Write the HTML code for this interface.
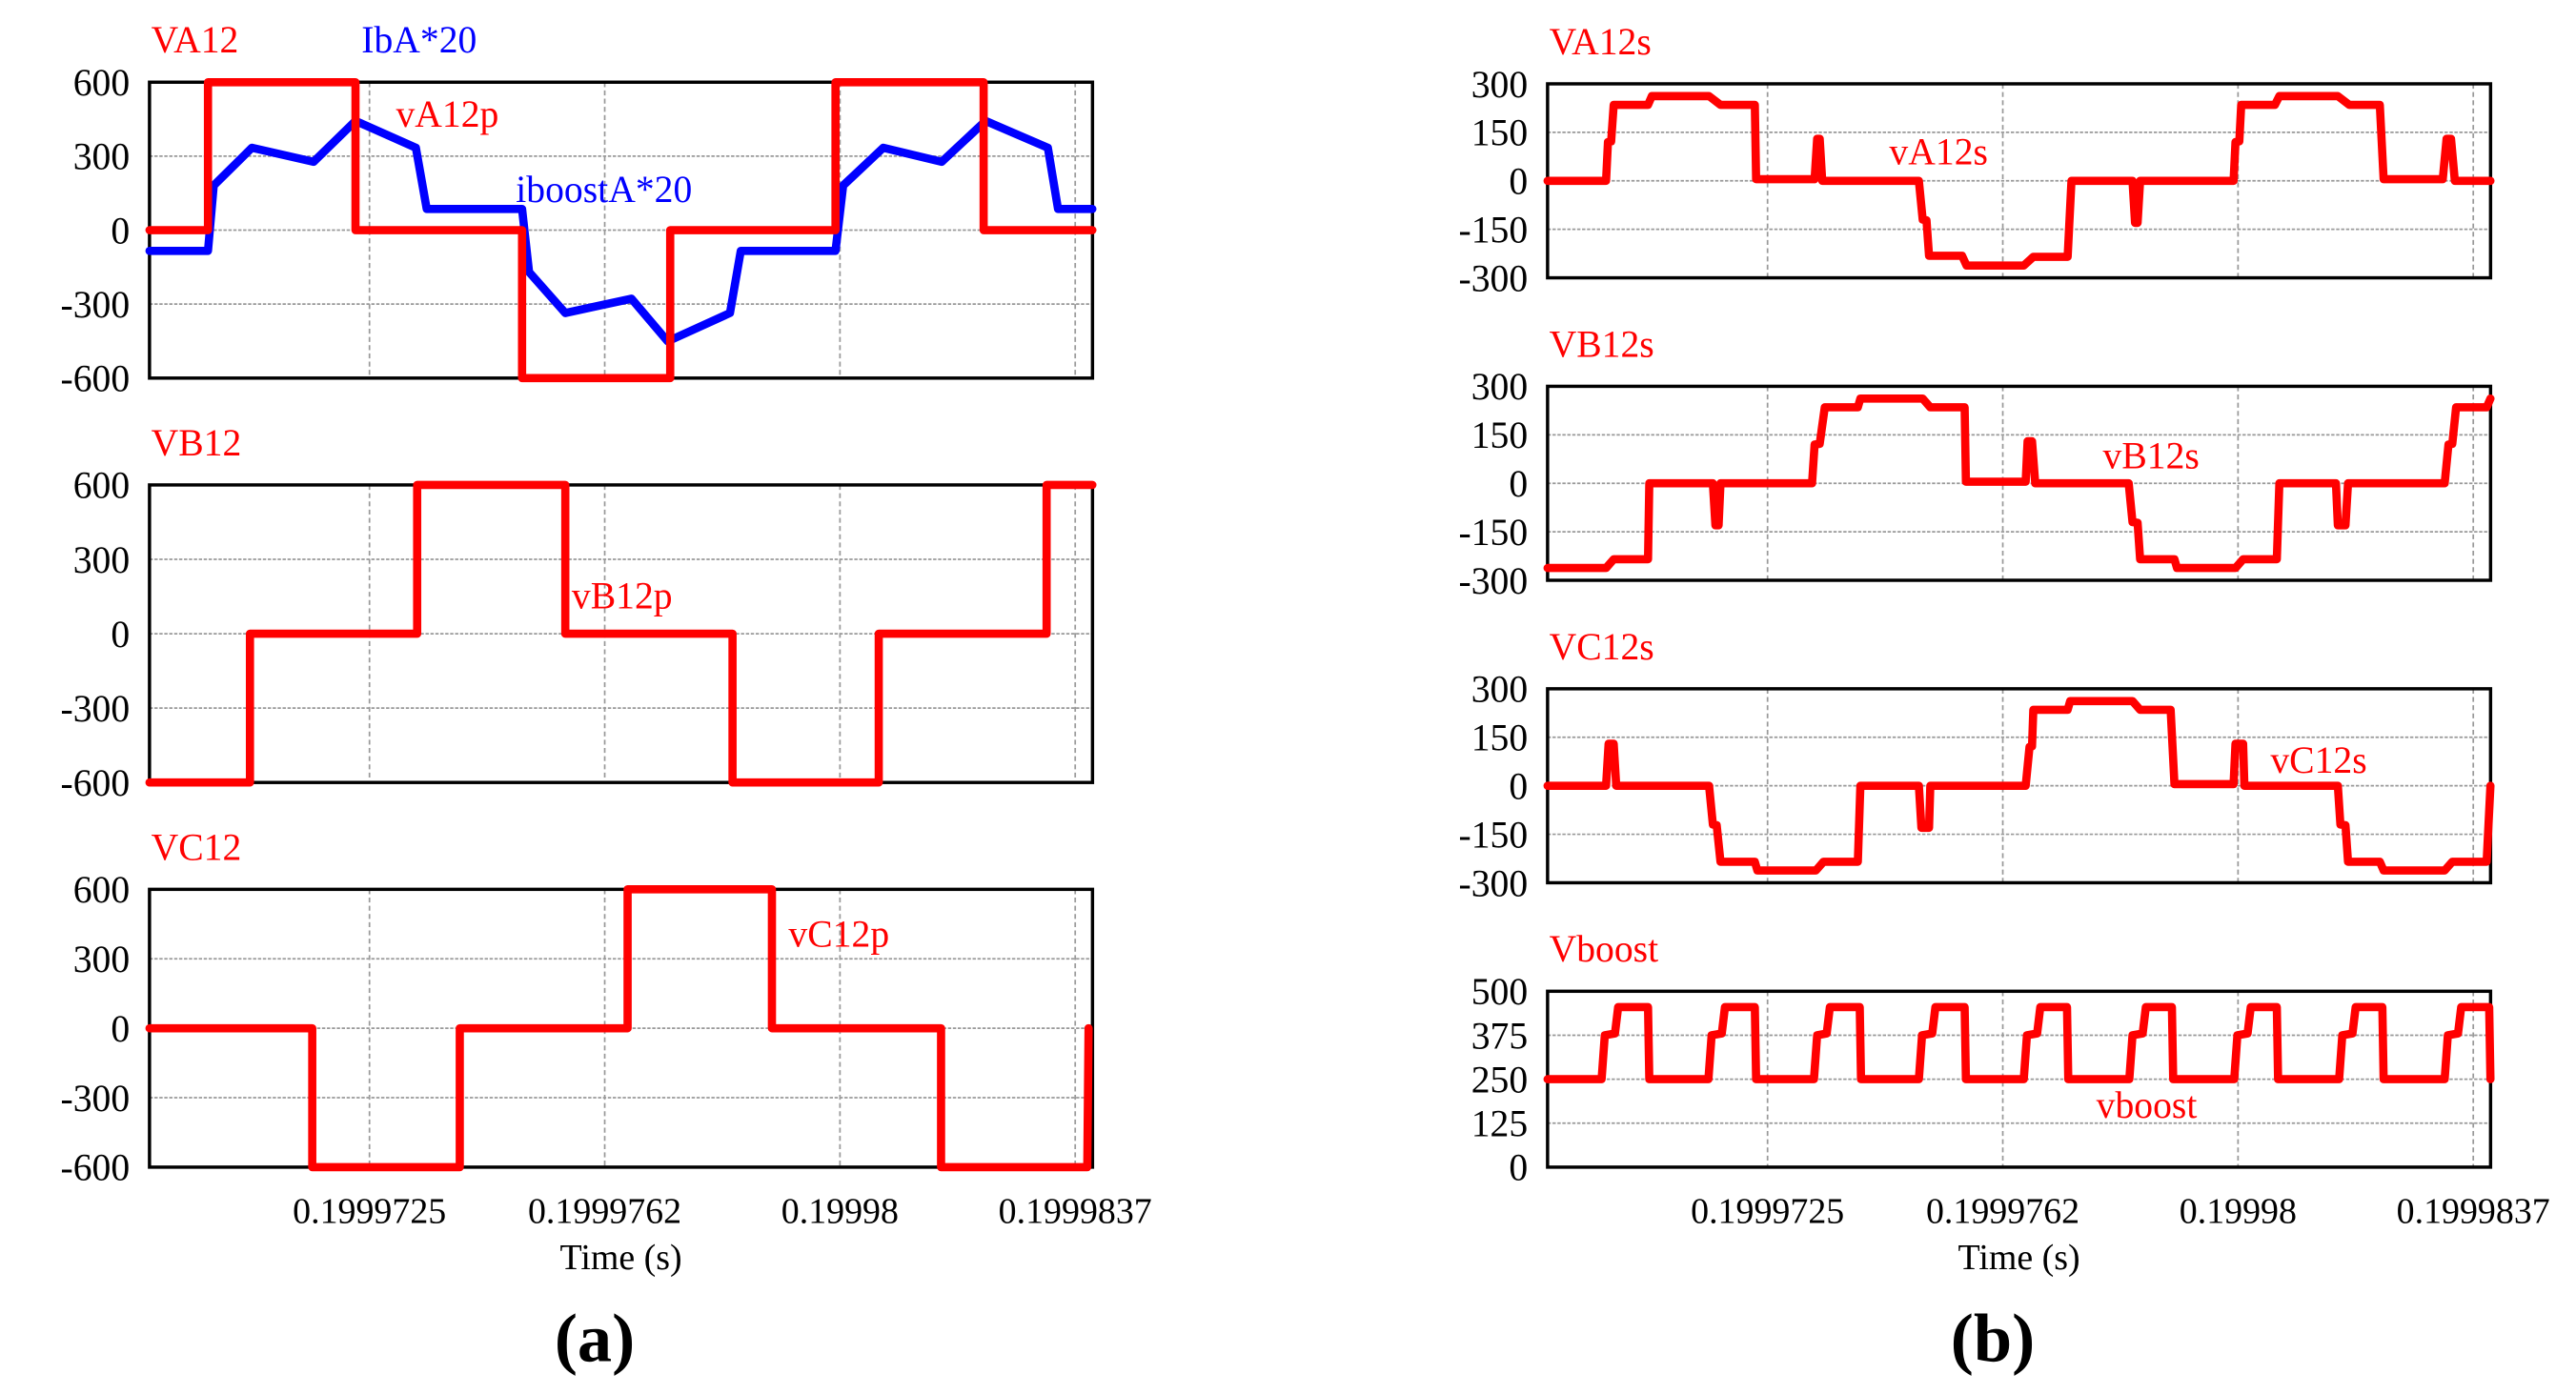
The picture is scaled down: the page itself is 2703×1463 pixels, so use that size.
<!DOCTYPE html>
<html><head><meta charset="utf-8"><style>
html,body{margin:0;padding:0;background:#fff;}
svg{display:block;}
text{font-family:"Liberation Serif",serif;}
</style></head><body>
<svg id="fig" width="2703" height="1463" viewBox="0 0 1568 848" preserveAspectRatio="none" xmlns="http://www.w3.org/2000/svg"></svg>
<script>
// ---- data (time in microseconds from left edge of the plot) ----
const tickTimes = [3.46, 7.16, 10.86, 14.56];
const tickLabels = ["0.1999725", "0.1999762", "0.19998", "0.1999837"];
const ticksA = [600, 300, 0, -300, -600];
const ticksS = [300, 150, 0, -150, -300];
const ticksBoost = [500, 375, 250, 125, 0];

const vA12p = [[0,0],[0.92,0],[0.92,600],[3.24,600],[3.24,0],[5.86,0],[5.86,-600],[8.19,-600],[8.19,0],[10.79,0],[10.79,600],[13.12,600],[13.12,0],[14.83,0]];
const iboostA = [[0,-84],[0.92,-84],[1.01,181],[1.61,334],[2.58,277],[3.24,443],[4.19,334],[4.36,86],[5.86,86],[5.97,-170],[6.54,-336],[7.58,-278],[8.15,-451],[9.13,-336],[9.30,-84],[10.79,-84],[10.91,181],[11.54,334],[12.46,277],[13.15,443],[14.13,334],[14.29,86],[14.83,86]];
const vB12p = [[0,-600],[1.58,-600],[1.58,0],[4.21,0],[4.21,600],[6.54,600],[6.54,0],[9.17,0],[9.17,-600],[11.47,-600],[11.47,0],[14.11,0],[14.11,600],[14.83,600]];
const vC12p = [[0,0],[2.56,0],[2.56,-600],[4.88,-600],[4.88,0],[7.52,0],[7.52,600],[9.79,600],[9.79,0],[12.45,0],[12.45,-600],[14.75,-600],[14.77,0]];

const vA12s = [[0,0],[0.92,0],[0.95,120],[1.0,122],[1.04,235],[1.58,235],[1.64,262],[2.54,262],[2.72,235],[3.26,235],[3.28,5],[4.20,5],[4.24,130],[4.28,130],[4.32,0],[5.84,0],[5.90,-120],[5.96,-122],[6.00,-232],[6.52,-232],[6.59,-262],[7.49,-262],[7.64,-235],[8.18,-235],[8.24,0],[9.20,0],[9.24,-130],[9.28,-130],[9.32,0],[10.79,0],[10.82,120],[10.88,122],[10.91,235],[11.44,235],[11.51,262],[12.43,262],[12.61,235],[13.09,235],[13.15,5],[14.08,5],[14.14,130],[14.21,130],[14.27,0],[14.83,0]];
const vB12s = [[0,-262],[0.92,-262],[1.04,-235],[1.58,-235],[1.60,0],[2.60,0],[2.64,-130],[2.69,-130],[2.72,0],[4.16,0],[4.20,120],[4.28,122],[4.36,235],[4.88,235],[4.92,262],[5.90,262],[6.02,235],[6.56,235],[6.58,5],[7.52,5],[7.55,130],[7.62,130],[7.67,0],[9.14,0],[9.20,-120],[9.28,-122],[9.32,-235],[9.86,-235],[9.90,-262],[10.82,-262],[10.94,-235],[11.47,-235],[11.51,0],[12.40,0],[12.43,-130],[12.55,-130],[12.59,0],[14.11,0],[14.17,120],[14.23,122],[14.29,235],[14.77,235],[14.83,262]];
const vC12s = [[0,0],[0.92,0],[0.96,130],[1.04,130],[1.08,0],[2.54,0],[2.60,-120],[2.66,-122],[2.72,-235],[3.26,-235],[3.30,-262],[4.22,-262],[4.34,-235],[4.88,-235],[4.92,0],[5.84,0],[5.88,-130],[6.00,-130],[6.02,0],[7.52,0],[7.58,120],[7.62,122],[7.64,235],[8.18,235],[8.22,262],[9.20,262],[9.32,235],[9.80,235],[9.86,5],[10.79,5],[10.82,130],[10.94,130],[10.96,0],[12.43,0],[12.47,-120],[12.55,-122],[12.59,-235],[13.09,-235],[13.15,-262],[14.11,-262],[14.23,-235],[14.77,-235],[14.83,0]];
const boostRise = [0.85, 2.53, 4.19, 5.84, 7.49, 9.15, 10.80, 12.45, 14.11];
const boostTop  = [1.11, 2.79, 4.44, 6.10, 7.75, 9.41, 11.06, 12.71, 14.37];
const boostFall = [1.58, 3.26, 4.91, 6.56, 8.17, 9.82, 11.47, 13.13, 14.81];
const boostLow = 250;
const boostMid = 375;
const boostHigh = 455;

// ---- drawing ----
const NS = "http://www.w3.org/2000/svg";
const svg = document.getElementById("fig");
function el(tag, attrs, parent){
  const e = document.createElementNS(NS, tag);
  for (const k in attrs) e.setAttribute(k, attrs[k]);
  (parent || svg).appendChild(e);
  return e;
}
const PXPERUS = 38.7;
function makeX(left){ return t => left + t * PXPERUS; }
function makeY(top, bottom, vmax, vmin){ return v => top + (vmax - v) / (vmax - vmin) * (bottom - top); }

function panel(name, left, right, top, bottom, vmax, vmin, ticks, title){
  const g = el("g", {});
  
  
  const X = makeX(left), Y = makeY(top, bottom, vmax, vmin);
  ticks.forEach(v => {
    if (v !== vmax && v !== vmin) {
      const l = el("line", {x1:left, x2:right, y1:Y(v), y2:Y(v), stroke:"#999", "stroke-width":1, "stroke-dasharray":"2,1"}, g);
      
      
    }
    const t = el("text", {x:left - 12, y:Y(v) + 8, "text-anchor":"end", "font-size":23, fill:"#000"}, g);
    t.textContent = v;
    
    
  });
  tickTimes.forEach(tt => {
    const l = el("line", {x1:X(tt), x2:X(tt), y1:top, y2:bottom, stroke:"#999", "stroke-width":1, "stroke-dasharray":"3,2"}, g);
    
    
  });
  const r = el("rect", {x:left, y:top, width:right-left, height:bottom-top, fill:"none", stroke:"#000", "stroke-width":2}, g);
  
  
  const tl = el("text", {x:left + 1, y:top - 18, "font-size":23, fill:"#f00"}, g);
  tl.textContent = title;
  
  
  return {g, X, Y, left, right, top, bottom};
}
function series(p, pts, color, name){
  const d = pts.map((q,i) => (i ? "L" : "M") + p.X(q[0]).toFixed(2) + "," + p.Y(q[1]).toFixed(2)).join("");
  const path = el("path", {d, fill:"none", stroke:color, "stroke-width":5, "stroke-linejoin":"round", "stroke-linecap":"round"}, p.g);
  
  
}
function label(p, x, y, txt, color, name){
  const t = el("text", {x, y, "font-size":23, fill:color}, p.g);
  t.textContent = txt;
  
  
}
function xAxis(p, cx, name){
  tickTimes.forEach((tt,i) => {
    const t = el("text", {x:p.X(tt), y:p.bottom + 34, "text-anchor":"middle", "font-size":22, fill:"#000"}, p.g);
    t.textContent = tickLabels[i];
    
    
  });
  const t = el("text", {x:cx, y:p.bottom + 62, "text-anchor":"middle", "font-size":22, fill:"#000"}, p.g);
  t.textContent = "Time (s)";
  
  
}

// (a)
const a1 = panel("va12", 91, 665, 50, 230, 600, -600, ticksA, "VA12");
series(a1, iboostA, "#00f", "iboostA-line");
series(a1, vA12p, "#f00", "vA12p-line");
label(a1, 220, 32, "IbA*20", "#00f", "ibA-title");
label(a1, 241, 77, "vA12p", "#f00", "vA12p-label");
label(a1, 314, 123, "iboostA*20", "#00f", "iboostA-label");

const a2 = panel("vb12", 91, 665, 295, 476, 600, -600, ticksA, "VB12");
series(a2, vB12p, "#f00", "vB12p-line");
label(a2, 348, 370, "vB12p", "#f00", "vB12p-label");

const a3 = panel("vc12", 91, 665, 541, 710, 600, -600, ticksA, "VC12");
series(a3, vC12p, "#f00", "vC12p-line");
label(a3, 480, 576, "vC12p", "#f00", "vC12p-label");
xAxis(a3, 378, "x-axis-title-a");

// (b)
const b1 = panel("va12s", 942, 1516, 51, 169, 300, -300, ticksS, "VA12s");
series(b1, vA12s, "#f00", "vA12s-line");
label(b1, 1150, 100, "vA12s", "#f00", "vA12s-label");

const b2 = panel("vb12s", 942, 1516, 235, 353, 300, -300, ticksS, "VB12s");
series(b2, vB12s, "#f00", "vB12s-line");
label(b2, 1280, 285, "vB12s", "#f00", "vB12s-label");

const b3 = panel("vc12s", 942, 1516, 419, 537, 300, -300, ticksS, "VC12s");
series(b3, vC12s, "#f00", "vC12s-line");
label(b3, 1382, 470, "vC12s", "#f00", "vC12s-label");

const b4 = panel("vboost", 942, 1516, 603, 710, 500, 0, ticksBoost, "Vboost");
const boostPts = [[0, boostLow]];
boostRise.forEach((tr,i) => {
  boostPts.push([tr, boostLow],[tr + 0.05, boostMid],[boostTop[i] - 0.05, boostMid + 5],[boostTop[i], boostHigh],[boostFall[i], boostHigh],[Math.min(boostFall[i] + 0.02, 14.83), boostLow]);
});
series(b4, boostPts, "#f00", "vboost-line");
label(b4, 1276, 680, "vboost", "#f00", "vboost-label");
xAxis(b4, 1229, "x-axis-title-b");

// captions
const ca = el("text", {x:362, y:828, "text-anchor":"middle", "font-size":42, "font-weight":"bold", fill:"#000"});
ca.textContent = "(a)";


const cb = el("text", {x:1213, y:828, "text-anchor":"middle", "font-size":42, "font-weight":"bold", fill:"#000"});
cb.textContent = "(b)";


</script>
</body></html>
